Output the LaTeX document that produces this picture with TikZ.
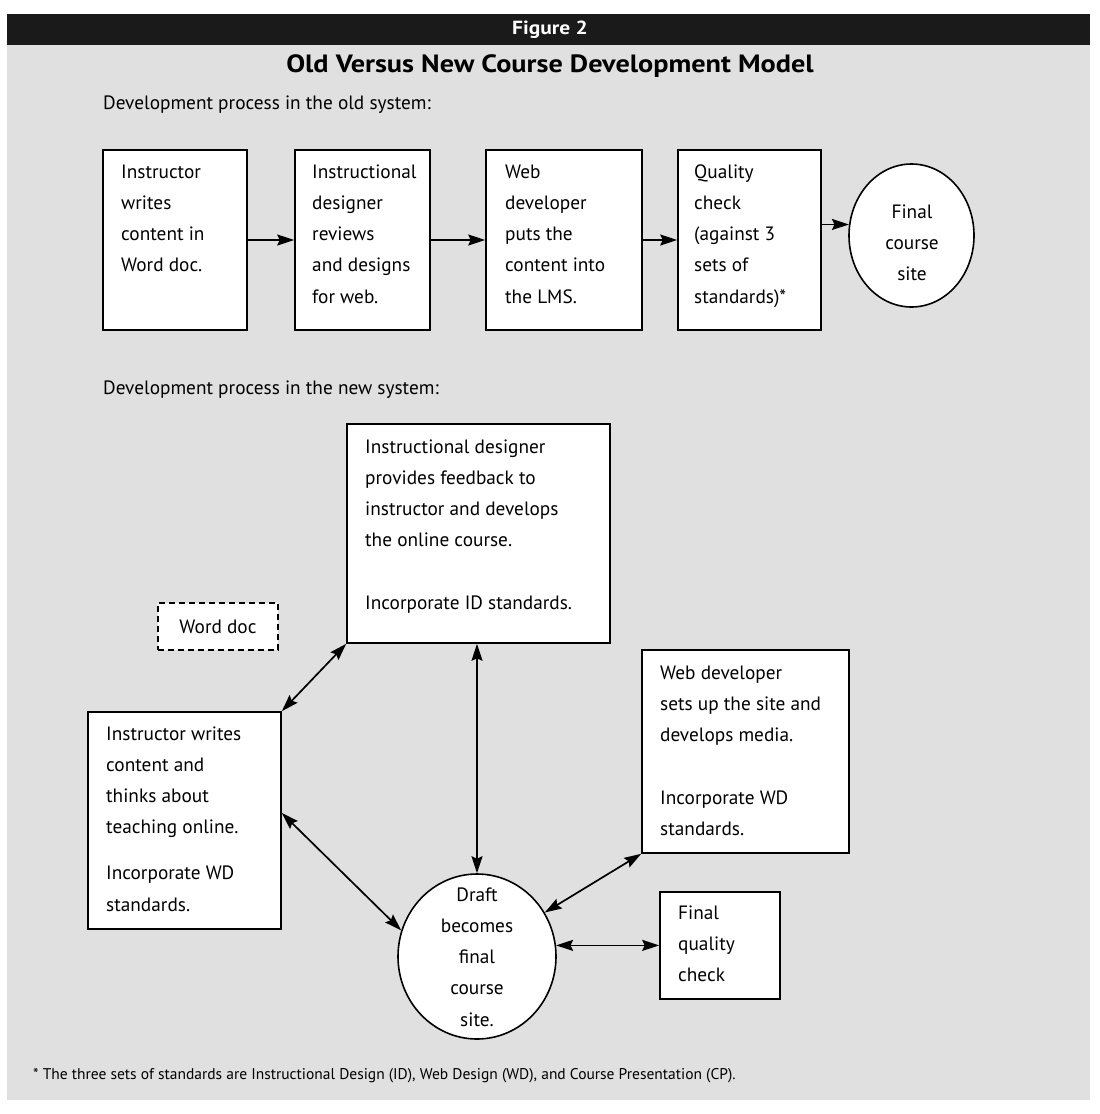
\documentclass[tikz,border=0pt]{standalone}
\usepackage{fontspec}
\setmainfont{PT Sans}
\newfontfamily\ttlfont[FakeStretch=1.13]{PT Sans Bold}
\usetikzlibrary{arrows.meta,calc,shapes.geometric}
\definecolor{panelgray}{RGB}{224,224,224}
\definecolor{barblack}{RGB}{26,26,26}
\newcommand{\lft}[2]{\parbox[t]{#1pt}{\raggedright #2}}
\newcommand{\ctr}[2]{\parbox[t]{#1pt}{\centering #2}}
\tikzset{
  box/.style={draw, fill=white, line width=1.6pt, rectangle, inner sep=0pt},
  oval/.style={draw, fill=white, line width=1.6pt, ellipse, inner sep=0pt},
  txt/.style={anchor=base west, inner sep=0pt, font=\fontsize{19.3}{31.25}\selectfont},
  ctxt/.style={anchor=base, inner sep=0pt, font=\fontsize{19.3}{31.25}\selectfont},
  arr/.style={line width=1.7pt, -{Stealth[length=17pt,width=11pt,inset=2.5pt]}},
  darr/.style={line width=1.7pt, {Stealth[length=17pt,width=11pt,inset=2.5pt]}-{Stealth[length=17pt,width=11pt,inset=2.5pt]}}
}
\begin{document}
\begin{tikzpicture}[x=1pt,y=-1pt]
\useasboundingbox[fill=white] (0,0) rectangle (1100,1114);
\fill[panelgray] (7,45) rectangle (1090,1100);
\fill[barblack] (7,14) rectangle (1090,45);
\node[font=\ttlfont\fontsize{19}{20}\selectfont, text=white] (fig) at (550,30) {Figure 2};
\node[font=\ttlfont\fontsize{25}{26}\selectfont] (title) at (550,66) {Old Versus New Course Development Model};
\node[txt] (oldlbl) at (103,109) {Development process in the old system:};

% old system
\node[box, minimum width=144, minimum height=180] (o1) at (175,240) {};
\node[box, minimum width=135, minimum height=180] (o2) at (362.5,240) {};
\node[box, minimum width=156, minimum height=180] (o3) at (564,240) {};
\node[box, minimum width=143, minimum height=180] (o4) at (749.5,240) {};
\node[oval, minimum width=125, minimum height=143] (ell) at (911.5,235.5) {};
\node[txt] (o1t) at (121,178) {\lft{130}{Instructor\\writes\\content in\\Word doc.}};
\node[txt] (o2t) at (312,178) {\lft{130}{Instructional\\designer\\reviews\\and designs\\for web.}};
\node[txt] (o3t) at (505,178) {\lft{140}{Web\\developer\\puts the\\content into\\the LMS.}};
\node[txt] (o4t) at (694,178) {\lft{130}{Quality\\check\\(against 3\\sets of\\standards)*}};
\node[ctxt] (ellt) at (912,218) {\ctr{110}{Final\\course\\site}};
\draw[arr] (o1) -- (o2);
\draw[arr] (o2) -- (o3);
\draw[arr] (o3) -- (o4);
\draw[arr] (o4.east |- ell.170) -- (ell.170);

% new system
\node[txt] (newlbl) at (103,394) {Development process in the new system:};
\node[box, minimum width=263, minimum height=219] (id) at (478.5,533.5) {};
\node[txt] (idt) at (365,453) {\lft{250}{Instructional designer\\provides feedback to\\instructor and develops\\the online course.\\[31.25pt]Incorporate ID standards.}};
\node[box, dashed, dash pattern=on 6pt off 4pt, minimum width=120, minimum height=47, font=\fontsize{19.3}{20}\selectfont] (word) at (218,626.5) {Word doc};
\node[box, minimum width=193, minimum height=217] (inst) at (184.5,820.5) {};
\node[txt] (instt) at (106,740) {\lft{180}{Instructor writes\\content and\\thinks about\\teaching online.\\[14.75pt]Incorporate WD\\standards.}};
\node[box, minimum width=207, minimum height=203] (web) at (745.5,751.5) {};
\node[txt] (webt) at (660,679) {\lft{190}{Web developer\\sets up the site and\\develops media.\\[31.25pt]Incorporate WD\\standards.}};
\node[oval, minimum width=158, minimum height=165] (circ) at (477,956.5) {};
\node[ctxt] (circt) at (477,901) {\ctr{140}{Draft\\becomes\\final\\course\\site.}};
\node[box, minimum width=120, minimum height=107] (fq) at (720,945.5) {};
\node[txt] (fqt) at (678,919) {\lft{100}{Final\\quality\\check}};

\draw[darr] (inst.north east) -- (id.south west);
\draw[darr] (circ.north |- id.south) -- (circ.north);
\draw[darr] ($(inst.east)+(0,-7.5)$) -- (circ.161);
\draw[darr] (circ.33) -- (web.south west);
\draw[darr] (circ.8) -- (circ.8 -| fq.west);

\node[anchor=base west, inner sep=0pt, font=\fontsize{15.5}{17}\selectfont] (foot) at (33,1079) {* The three sets of standards are Instructional Design (ID), Web Design (WD), and Course Presentation (CP).};
\end{tikzpicture}
\end{document}
